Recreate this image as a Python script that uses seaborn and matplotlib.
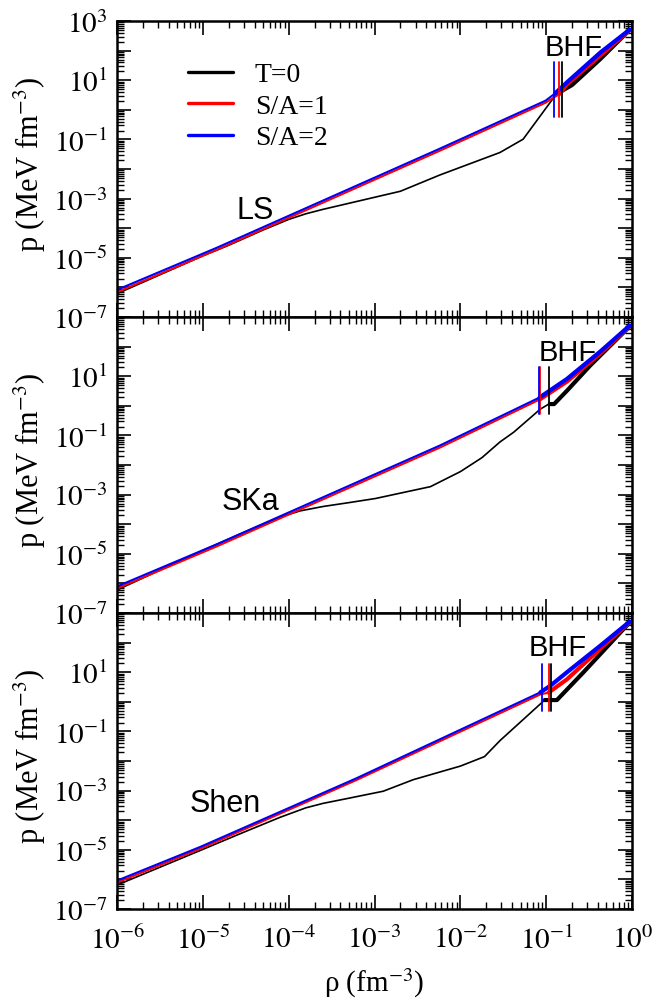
import numpy as np
import pandas as pd
import matplotlib
matplotlib.use("Agg")
import matplotlib.pyplot as plt
import seaborn as sns
from matplotlib.ticker import FixedLocator, LogLocator, FuncFormatter, NullFormatter
from matplotlib.lines import Line2D

# ---------------- data: log10(rho / fm^-3) and log10(p / MeV fm^-3) ----------------
panel_names = ["LS", "SKa", "Shen"]
series_names = ["T=0", "S/A=1", "S/A=2"]
series_colors = ["#000000", "#ff0000", "#0000ff"]

# LS
LS_rho_T0 = [-6.0, -5.0, -4.72, -4.3, -4.0, -3.8, -3.6, -3.29, -2.70, -2.24, -1.54, -1.27, -0.90, -0.82]
LS_p_T0 = [-6.21, -4.93, -4.60, -4.06, -3.70, -3.51, -3.36, -3.15, -2.75, -2.20, -1.44, -0.99, 0.47, 0.64]
LS_rho_T0_bhf = [-0.82, -0.70, -0.37, -0.03]
LS_p_T0_bhf = [0.64, 0.84, 1.72, 2.70]
LS_rho_S1 = [-6.0, -4.84, -2.24, -1.01, -0.85]
LS_p_S1 = [-6.16, -4.73, -1.38, 0.24, 0.53]
LS_rho_S1_bhf = [-0.85, -0.76, -0.37, -0.03]
LS_p_S1_bhf = [0.53, 0.86, 1.84, 2.69]
LS_rho_S2 = [-6.0, -4.84, -2.24, -1.01, -0.90]
LS_p_S2 = [-6.08, -4.66, -1.31, 0.31, 0.55]
LS_rho_S2_bhf = [-0.90, -0.76, -0.37, -0.03]
LS_p_S2_bhf = [0.55, 0.93, 1.94, 2.71]
LS_bhf_rho = [0.152, 0.140, 0.124]
LS_bhf_p = [0.57, 41.7]

# SKa
SKa_rho_T0 = [-6.0, -5.0, -4.4, -4.1, -3.87, -3.6, -3.3, -2.99, -2.35, -2.0, -1.75, -1.54, -1.38, -1.07, -0.96]
SKa_p_T0 = [-6.22, -4.88, -4.12, -3.76, -3.55, -3.40, -3.27, -3.13, -2.73, -2.22, -1.75, -1.22, -0.89, -0.11, 0.08]
SKa_rho_T0_bhf = [-0.96, -0.91, -0.76, -0.49, -0.03]
SKa_p_T0_bhf = [0.06, 0.06, 0.51, 1.36, 2.68]
SKa_rho_S1 = [-6.0, -4.84, -2.24, -1.08]
SKa_p_S1 = [-6.17, -4.75, -1.41, 0.21]
SKa_rho_S1_bhf = [-1.08, -0.76, -0.37, -0.03]
SKa_p_S1_bhf = [0.21, 0.82, 1.77, 2.69]
SKa_rho_S2 = [-6.0, -4.84, -2.24, -1.08]
SKa_p_S2 = [-6.10, -4.68, -1.34, 0.28]
SKa_rho_S2_bhf = [-1.08, -0.76, -0.37, -0.03]
SKa_p_S2_bhf = [0.28, 0.91, 1.84, 2.71]
SKa_bhf_rho = [0.106, 0.084, 0.082]
SKa_bhf_p = [0.52, 20.4]

# Shen
Shen_rho_T0 = [-6.0, -5.03, -4.57, -4.10, -3.80, -3.60, -3.29, -2.90, -2.55, -2.0, -1.72, -1.54, -1.02]
Shen_p_T0 = [-6.19, -5.02, -4.46, -3.90, -3.58, -3.43, -3.25, -3.02, -2.63, -2.17, -1.85, -1.31, 0.06]
Shen_rho_T0_bhf = [-1.02, -0.877, -0.567, -0.03]
Shen_p_T0_bhf = [0.06, 0.06, 1.0, 2.68]
Shen_rho_S1 = [-6.0, -5.03, -3.21, -1.07, -0.975]
Shen_p_S1 = [-6.11, -4.96, -2.64, 0.25, 0.31]
Shen_rho_S1_bhf = [-0.975, -0.76, -0.37, -0.03]
Shen_p_S1_bhf = [0.31, 0.76, 1.80, 2.69]
Shen_rho_S2 = [-6.0, -5.03, -3.21, -1.07]
Shen_p_S2 = [-6.04, -4.90, -2.58, 0.32]
Shen_rho_S2_bhf = [-1.07, -0.955, -0.76, -0.37, -0.03]
Shen_p_S2_bhf = [0.32, 0.54, 1.0, 1.90, 2.71]
Shen_bhf_rho = [0.114, 0.106, 0.090]
Shen_bhf_p = [0.50, 19.0]

# label positions (data coords, log10)
panel_label_pos = [(-4.39, -3.39), (-4.45, -3.22), (-4.74, -3.42)]
bhf_label_pos = [(-0.676, 2.14), (-0.75, 1.82), (-0.87, 1.85)]

panels = [
    dict(T0=(LS_rho_T0, LS_p_T0), T0b=(LS_rho_T0_bhf, LS_p_T0_bhf),
         S1=(LS_rho_S1, LS_p_S1), S1b=(LS_rho_S1_bhf, LS_p_S1_bhf),
         S2=(LS_rho_S2, LS_p_S2), S2b=(LS_rho_S2_bhf, LS_p_S2_bhf),
         vr=LS_bhf_rho, vp=LS_bhf_p),
    dict(T0=(SKa_rho_T0, SKa_p_T0), T0b=(SKa_rho_T0_bhf, SKa_p_T0_bhf),
         S1=(SKa_rho_S1, SKa_p_S1), S1b=(SKa_rho_S1_bhf, SKa_p_S1_bhf),
         S2=(SKa_rho_S2, SKa_p_S2), S2b=(SKa_rho_S2_bhf, SKa_p_S2_bhf),
         vr=SKa_bhf_rho, vp=SKa_bhf_p),
    dict(T0=(Shen_rho_T0, Shen_p_T0), T0b=(Shen_rho_T0_bhf, Shen_p_T0_bhf),
         S1=(Shen_rho_S1, Shen_p_S1), S1b=(Shen_rho_S1_bhf, Shen_p_S1_bhf),
         S2=(Shen_rho_S2, Shen_p_S2), S2b=(Shen_rho_S2_bhf, Shen_p_S2_bhf),
         vr=Shen_bhf_rho, vp=Shen_bhf_p),
]

# ---------------- style ----------------
sns.set_style("ticks")
plt.rcParams["font.family"] = ["Liberation Serif", "DejaVu Serif"]
plt.rcParams["mathtext.fontset"] = "stix"
for k in ["text.color", "axes.edgecolor", "axes.labelcolor", "xtick.color", "ytick.color"]:
    plt.rcParams[k] = "black"

fig = plt.figure(figsize=(6.69, 10.03), dpi=100)
axes = fig.subplots(3, 1, sharex=True)
fig.subplots_adjust(left=0.175, right=0.945, top=0.978, bottom=0.0927, hspace=0)


def draw(ax, rho, p, color, lw):
    df = pd.DataFrame({"rho": 10.0 ** np.asarray(rho), "p": 10.0 ** np.asarray(p)})
    sns.lineplot(data=df, x="rho", y="p", ax=ax, color=color, lw=lw,
                 estimator=None, sort=False, legend=False)


def ylab(v, pos, allow_top):
    e = int(round(np.log10(v)))
    if e % 2 == 0:
        return ""
    if e == 3 and not allow_top:
        return ""
    return r"$10^{%d}$" % e


for i, (ax, d) in enumerate(zip(axes, panels)):
    ax.set_xscale("log")
    ax.set_yscale("log")
    draw(ax, *d["T0"], series_colors[0], 1.2)
    draw(ax, *d["T0b"], series_colors[0], 3.0)
    draw(ax, *d["S1"], series_colors[1], 1.5)
    draw(ax, *d["S1b"], series_colors[1], 3.0)
    draw(ax, *d["S2"], series_colors[2], 1.5)
    draw(ax, *d["S2b"], series_colors[2], 3.0)
    for r, c in zip(d["vr"], series_colors):
        ax.plot([r, r], d["vp"], color=c, lw=1.3)
    ax.set_xlim(1e-6, 1.0)
    ax.set_ylim(1e-7, 1e3)
    lx, ly = panel_label_pos[i]
    ax.text(10 ** lx, 10 ** ly, panel_names[i], ha="center", va="center",
            fontsize=22, family=["Liberation Sans", "DejaVu Sans"])
    bx, by = bhf_label_pos[i]
    ax.text(10 ** bx, 10 ** by, "BHF", ha="center", va="center",
            fontsize=21, family=["Liberation Sans", "DejaVu Sans"])
    ax.xaxis.set_major_locator(FixedLocator(10.0 ** np.arange(-6, 1)))
    ax.xaxis.set_minor_locator(LogLocator(base=10, subs=np.arange(2, 10), numticks=100))
    ax.yaxis.set_major_locator(FixedLocator(10.0 ** np.arange(-7, 4)))
    ax.yaxis.set_minor_locator(LogLocator(base=10, subs=np.arange(2, 10), numticks=100))
    ax.yaxis.set_minor_formatter(NullFormatter())
    ax.xaxis.set_minor_formatter(NullFormatter())
    ax.yaxis.set_major_formatter(FuncFormatter(lambda v, pos, a=(i == 0): ylab(v, pos, a)))
    ax.tick_params(which="both", direction="in", top=True, right=True)
    ax.tick_params(which="major", length=10, width=1.2, labelsize=21, pad=7)
    ax.tick_params(which="minor", length=5, width=1.0)
    ax.tick_params(axis="x", pad=12)
    for s in ax.spines.values():
        s.set_linewidth(1.8)
    ax.set_ylabel(r"p (MeV fm$^{-3}$)", fontsize=22)
    ax.yaxis.set_label_coords(-0.134, 0.52)
    ax.set_xlabel("")

axes[-1].xaxis.set_major_formatter(FuncFormatter(lambda v, pos: r"$10^{%d}$" % int(round(np.log10(v)))))
axes[-1].set_xlabel(r"ρ (fm$^{-3}$)", fontsize=21, labelpad=8)

handles = [Line2D([], [], color=c, lw=2.4) for c in series_colors]
axes[0].legend(handles, series_names, loc="upper left", bbox_to_anchor=(0.138, 0.862),
               frameon=False, fontsize=20, handlelength=1.6, handletextpad=0.8,
               labelspacing=0.22, borderpad=0, borderaxespad=0)

fig.savefig("out.png", dpi=100)
